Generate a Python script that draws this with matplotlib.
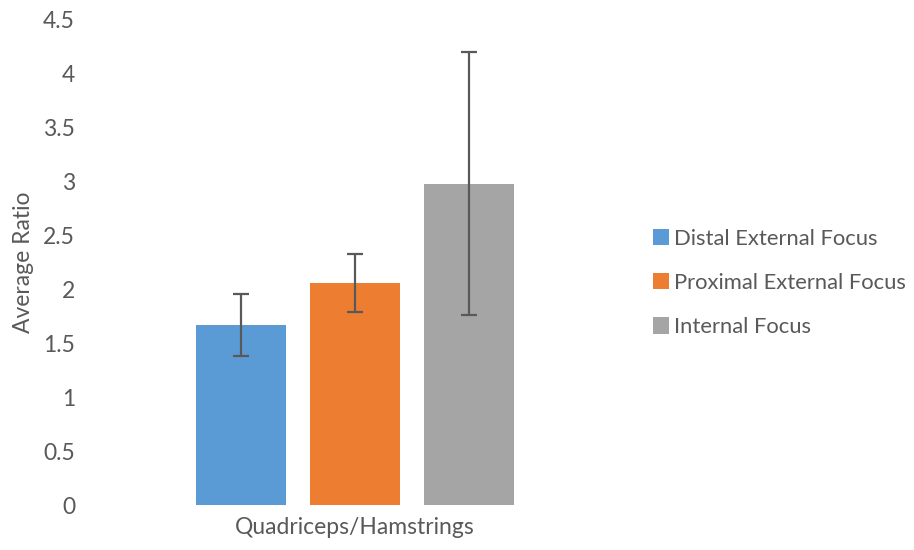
import numpy as np
import matplotlib
matplotlib.use("Agg")
from matplotlib import pyplot as plt

plt.rcParams['font.family'] = ['Lato', 'DejaVu Sans']

category = "Quadriceps/Hamstrings"
series = ["Distal External Focus", "Proximal External Focus", "Internal Focus"]
means = [1.67, 2.06, 2.98]
errors = [0.29, 0.27, 1.22]
colors = ["#5B9BD5", "#ED7D31", "#A5A5A5"]

text_color = "#595959"
fs = 16.5

fig = plt.figure(figsize=(9.14, 5.5), dpi=100)
ax = fig.add_axes([82 / 914, 45 / 550, 546 / 914, 485 / 550])

# bar layout in axis units (plot area is 546 px wide)
width = 90 / 546
offsets = np.array([-1, 0, 1]) * 114 / 546
for off, m, e, c, name in zip(offsets, means, errors, colors, series):
    ax.bar(off, m, width=width, color=c, label=name, zorder=2)
    ax.errorbar(off, m, yerr=e, fmt='none', ecolor=text_color, elinewidth=1.6,
                capsize=6, capthick=1.6, zorder=3)

ax.set_xlim(-0.5, 0.5)
ax.set_ylim(0, 4.5)
ax.set_yticks(np.arange(0, 4.51, 0.5))
ax.set_yticklabels(["0", "0.5", "1", "1.5", "2", "2.5", "3", "3.5", "4", "4.5"])
ax.set_xticks([0])
ax.set_xticklabels([category])
ax.tick_params(axis='both', length=0, labelsize=fs, colors=text_color)
ax.tick_params(axis='y', pad=5)
ax.tick_params(axis='x', pad=9)
for s in ax.spines.values():
    s.set_visible(False)
ax.set_ylabel("Average Ratio", fontsize=fs, color=text_color, va='center')
ax.yaxis.set_label_coords(-58 / 546, 0.5)

leg = ax.legend(loc='center left', bbox_to_anchor=(653 / 914, 1 - 283 / 550),
                bbox_transform=fig.transFigure, frameon=False,
                fontsize=15.8, handlelength=0.75, handleheight=0.75,
                handletextpad=0.2, labelspacing=1.1,
                borderaxespad=0, borderpad=0)
for t in leg.get_texts():
    t.set_color(text_color)

fig.savefig("out.png", dpi=100)
